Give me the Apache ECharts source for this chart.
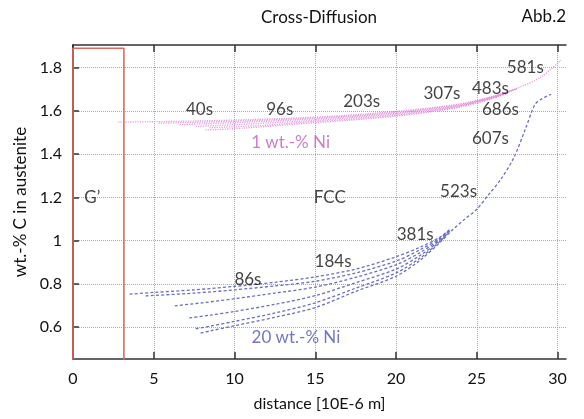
<!DOCTYPE html>
<html><head><meta charset="utf-8">
<script src="https://cdn.jsdelivr.net/npm/echarts@6/dist/echarts.min.js"></script>
<style>html,body{margin:0;padding:0;background:#fff}#c{width:584px;height:419px}</style>
</head><body><div id="c"></div>
<script>
const xTicks = [0, 5, 10, 15, 20, 25, 30];
const yTicks = [0.6, 0.8, 1, 1.2, 1.4, 1.6, 1.8];

// 1 wt.-% Ni profiles
const pink40  = [[2.8,1.548],[5,1.550],[8,1.554],[11,1.560],[14,1.568],[17,1.580],[20,1.598],[22,1.613],[24,1.633],[26,1.668],[27.5,1.705],[29,1.758],[30.2,1.835]];
const pink96  = [[5.3,1.543],[8,1.548],[11,1.555],[14,1.564],[17,1.576],[20,1.594],[22,1.610],[24,1.630],[26,1.666],[27.5,1.704]];
const pink203 = [[6.6,1.536],[8,1.540],[11,1.549],[14,1.559],[17,1.572],[20,1.590],[22,1.606],[24,1.627],[26,1.664],[27.5,1.702]];
const pink307 = [[7.6,1.528],[9,1.533],[11,1.540],[14,1.552],[17,1.567],[20,1.585],[22,1.602],[24,1.624],[26,1.662],[27,1.688]];
const pink483 = [[8.45,1.522],[10,1.527],[12,1.534],[14,1.546],[17,1.561],[20,1.580],[22,1.598],[24,1.621],[26,1.660],[27,1.686]];
const pink581 = [[8.2,1.512],[10,1.518],[12,1.528],[14,1.540],[17,1.556],[20,1.576],[22,1.594],[24,1.618],[26,1.658],[27,1.684]];

// 20 wt.-% Ni profiles
const blue86  = [[3.5,0.752],[5,0.760],[7.5,0.772],[10,0.788],[12.5,0.807],[15,0.832],[17.5,0.868],[20,0.925],[21.5,0.970],[22.7,1.015],[23.3,1.050]];
const blue184 = [[4.5,0.744],[7.5,0.757],[10,0.772],[12.5,0.790],[15,0.812],[17.5,0.850],[20,0.905],[21.5,0.958],[22.7,1.010],[23.3,1.048]];
const blue381 = [[6.3,0.698],[8,0.712],[10,0.731],[12.5,0.757],[15,0.785],[17.5,0.830],[20,0.888],[21.5,0.945],[22.7,1.005],[23.3,1.046]];
const blue523 = [[7.2,0.642],[8.5,0.655],[10,0.672],[12.5,0.705],[15,0.745],[17.5,0.805],[20,0.868],[21.5,0.932],[22.7,1.000],[23.3,1.044]];
const blue607 = [[7.6,0.592],[8.5,0.604],[10,0.626],[12.5,0.665],[15,0.712],[17.5,0.780],[20,0.850],[21.5,0.920],[22.7,0.995],[23.3,1.042]];
const blue686 = [[7.9,0.572],[8.5,0.582],[10,0.606],[12.5,0.645],[15,0.690],[17.5,0.765],[20,0.835],[21.5,0.910],[22.7,0.990],[23.5,1.050],[24.3,1.102],[25,1.145],[25.7,1.210],[26.5,1.285],[27.3,1.385],[28,1.515],[28.6,1.630],[29,1.655],[29.6,1.677]];

// G' phase region
const gPhaseBox = [[0,0.40],[0,1.89],[3.15,1.89],[3.15,0.40]];

// text annotations [x, y, text]
const timeLabels = [
  [7.83,1.605,'40s'],[12.8,1.608,'96s'],[17.87,1.643,'203s'],[22.84,1.682,'307s'],
  [25.84,1.705,'483s'],[28.0,1.800,'581s'],[26.46,1.605,'686s'],[25.84,1.474,'607s'],
  [23.87,1.227,'523s'],[21.18,1.027,'381s'],[16.1,0.904,'184s'],[10.83,0.819,'86s']
];
const regionLabels = [[1.2,1.2,'G’'],[15.9,1.2,'FCC']];
const lowNiLabel = [[13.47,1.455,'1 wt.-% Ni']];
const highNiLabel = [[13.8,0.55,'20 wt.-% Ni']];

const FONT = 'Lato';
const TXT = '#111';
const pinkColor = '#e08ad8';
const blueColor = '#6a6ec4';

function pinkSeries(d){return {type:'line',data:d,smooth:0.3,symbol:'none',xAxisIndex:0,yAxisIndex:0,
  lineStyle:{color:pinkColor,width:1.3,type:[1.2,1.2],opacity:0.85},z:3};}
function blueSeries(d){return {type:'line',data:d,smooth:0.3,symbol:'none',xAxisIndex:0,yAxisIndex:0,
  lineStyle:{color:blueColor,width:1.3,type:[3,2.2]},z:3};}
function textSeries(d,color,size){return {type:'scatter',data:d,symbolSize:0,xAxisIndex:0,yAxisIndex:0,z:5,
  label:{show:true,position:'inside',formatter:p=>p.data[2],color:color,fontFamily:FONT,fontSize:size}};}

const axisLineStyle = {color:'#333',width:1.5};
const chart = echarts.init(document.getElementById('c'));
chart.setOption({
  animation:false,
  grid:{left:73,right:18,top:45,bottom:60},
  graphic:[
    {type:'text',left:261,top:9,style:{text:'Cross-Diffusion',font:'17px '+FONT,fill:TXT}},
    {type:'text',right:18,top:8,style:{text:'Abb.2',font:'17px '+FONT,fill:TXT}}
  ],
  xAxis:[
    {type:'value',min:0,max:30.52,position:'bottom',
     axisLine:{lineStyle:axisLineStyle},
     axisTick:{inside:true,length:7,customValues:xTicks,lineStyle:axisLineStyle},
     axisLabel:{customValues:xTicks,fontSize:16,color:TXT,fontFamily:FONT,margin:12},
     splitLine:{show:true,lineStyle:{type:'dotted',color:'#aaa',width:1}},
     name:'distance [10E-6 m]',nameLocation:'middle',nameGap:37,
     nameTextStyle:{fontSize:16,color:TXT,fontFamily:FONT}},
    {type:'value',min:0,max:30.52,position:'top',
     axisLine:{lineStyle:axisLineStyle},
     axisTick:{inside:true,length:7,customValues:xTicks,lineStyle:axisLineStyle},
     axisLabel:{show:false},splitLine:{show:false}}
  ],
  yAxis:[
    {type:'value',min:0.452,max:1.905,position:'left',
     axisLine:{show:true,lineStyle:axisLineStyle},
     axisTick:{show:true,inside:true,length:6,customValues:yTicks,lineStyle:axisLineStyle},
     axisLabel:{customValues:yTicks,fontSize:16,color:TXT,fontFamily:FONT,margin:11},
     splitLine:{show:true,lineStyle:{type:'dotted',color:'#aaa',width:1}},
     name:'wt.-% C in austenite',nameLocation:'middle',nameGap:38,
     nameTextStyle:{fontSize:17,color:TXT,fontFamily:FONT}},
    {type:'value',min:0.452,max:1.905,position:'right',
     axisLine:{show:true,lineStyle:axisLineStyle},
     axisTick:{show:false},axisLabel:{show:false},splitLine:{show:false}}
  ],
  series:[
    {type:'line',data:gPhaseBox,symbol:'none',xAxisIndex:0,yAxisIndex:0,clip:true,
     lineStyle:{color:'#e2685e',width:1.6},z:4},
    pinkSeries(pink40),pinkSeries(pink96),pinkSeries(pink203),
    pinkSeries(pink307),pinkSeries(pink483),pinkSeries(pink581),
    blueSeries(blue86),blueSeries(blue184),blueSeries(blue381),
    blueSeries(blue523),blueSeries(blue607),blueSeries(blue686),
    textSeries(timeLabels,TXT,17),
    textSeries(regionLabels,TXT,17),
    textSeries(lowNiLabel,'#c25cbc',17),
    textSeries(highNiLabel,'#4f55b0',17)
  ]
});
</script>
</body></html>
